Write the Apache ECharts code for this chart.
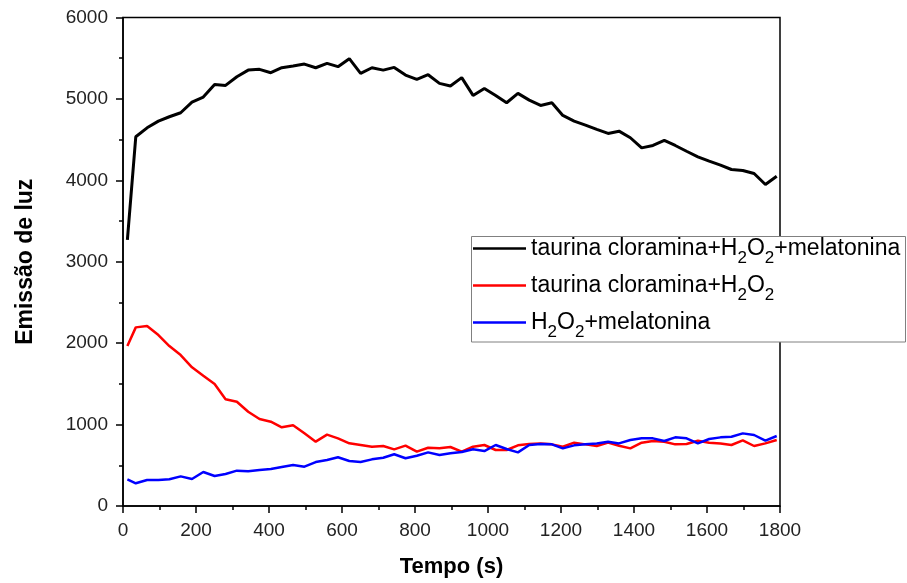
<!DOCTYPE html>
<html>
<head>
<meta charset="utf-8">
<title>Emissão de luz</title>
<script src="https://cdn.jsdelivr.net/npm/echarts@6/dist/echarts.min.js"></script>
<style>
  html, body { margin: 0; padding: 0; background: #fff; }
  #chart { width: 907px; height: 583px; }
</style>
</head>
<body>
<div id="chart"></div>
<script>
// Sampling times (s)
const tempo = [12, 35, 66, 97, 127, 158, 189, 220, 251, 281,
  312, 343, 374, 405, 435, 466, 497, 528, 559, 589,
  620, 651, 682, 713, 743, 774, 805, 836, 867, 897,
  928, 959, 990, 1021, 1051, 1082, 1113, 1144, 1175, 1205,
  1236, 1267, 1298, 1329, 1359, 1390, 1421, 1452, 1483, 1513,
  1544, 1575, 1606, 1637, 1667, 1698, 1729, 1760, 1791];

// Light emission: taurina cloramina + H2O2 + melatonina
const tcH2O2Mel = [3270, 4535, 4645, 4727, 4781, 4830, 4961, 5023, 5178, 5166,
  5273, 5354, 5363, 5322, 5383, 5404, 5428, 5383, 5437, 5396,
  5494, 5314, 5383, 5354, 5387, 5293, 5240, 5297, 5191, 5158,
  5261, 5043, 5129, 5043, 4953, 5068, 4985, 4920, 4953, 4797,
  4727, 4678, 4625, 4576, 4604, 4523, 4399, 4428, 4490, 4428,
  4357, 4289, 4235, 4186, 4133, 4121, 4084, 3949, 4051];

// Light emission: taurina cloramina + H2O2
const tcH2O2 = [1965, 2194, 2210, 2100, 1965, 1854, 1703, 1600, 1498, 1310,
  1281, 1158, 1068, 1035, 966, 991, 893, 790, 876, 831,
  770, 749, 728, 737, 696, 741, 667, 716, 708, 725,
  667, 728, 749, 688, 688, 745, 761, 769, 757, 728,
  778, 757, 737, 778, 741, 708, 778, 798, 790, 757,
  761, 802, 778, 769, 749, 806, 737, 769, 810];

// Light emission: H2O2 + melatonina
const h2o2Mel = [328, 279, 319, 319, 328, 364, 332, 418, 368, 393,
  434, 426, 442, 454, 479, 503, 483, 540, 565, 598,
  553, 540, 573, 593, 635, 586, 618, 659, 626, 647,
  663, 696, 675, 749, 700, 659, 749, 761, 757, 708,
  745, 757, 769, 790, 769, 810, 831, 831, 798, 843,
  831, 769, 823, 843, 851, 892, 872, 802, 860];

const seriesNames = [
  'taurina cloramina+H2O2+melatonina',
  'taurina cloramina+H2O2',
  'H2O2+melatonina'
];
const seriesValues = [tcH2O2Mel, tcH2O2, h2o2Mel];
const seriesColors = ['#000000', '#ff0000', '#0000ff'];
const seriesWidths = [3, 2.5, 2.5];

const xTicks = { min: 0, max: 1800, interval: 200 };
const yTicks = { min: 0, max: 6000, interval: 1000 };

const FONT = '"Liberation Sans", Arial, sans-serif';

const chart = echarts.init(document.getElementById('chart'), null, { renderer: 'canvas' });

const plainNumber = function (v) { return String(v); };

const axisCommon = {
  axisLine: { show: true, onZero: false, lineStyle: { color: '#000', width: 1.5 } },
  axisTick: { show: true, inside: false, length: 7, lineStyle: { color: '#000', width: 1.5 } },
  minorTick: { show: true, splitNumber: 2, length: 4, lineStyle: { color: '#000', width: 1.5 } },
  splitLine: { show: false },
  axisLabel: { color: '#222', fontSize: 19, fontFamily: FONT, margin: 15, formatter: plainNumber },
  nameTextStyle: { color: '#000', fontSize: 22, fontWeight: 'bold', fontFamily: FONT }
};

chart.setOption({
  animation: false,
  backgroundColor: '#fff',
  grid: {
    left: 123, right: 127, top: 17.5, bottom: 77,
    show: true, borderColor: '#000', borderWidth: 1.5, backgroundColor: 'transparent'
  },
  xAxis: Object.assign({}, axisCommon, {
    type: 'value',
    min: xTicks.min, max: xTicks.max, interval: xTicks.interval,
    name: 'Tempo (s)',
    nameLocation: 'middle',
    nameGap: 50
  }),
  yAxis: Object.assign({}, axisCommon, {
    type: 'value',
    min: yTicks.min, max: yTicks.max, interval: yTicks.interval,
    name: 'Emissão de luz',
    nameLocation: 'middle',
    nameGap: 86,
    nameTextStyle: { color: '#000', fontSize: 23, fontWeight: 'bold', fontFamily: FONT }
  }),
  // legend frame with white fill, drawn beneath the legend entries
  graphic: [{
    type: 'rect',
    z: 3,
    silent: true,
    shape: { x: 471.5, y: 236.5, width: 434, height: 105.5 },
    style: { fill: '#fff', stroke: '#808080', lineWidth: 1 }
  }],
  legend: {
    z: 4,
    orient: 'vertical',
    left: 473,
    top: 230.5,
    padding: 0,
    itemGap: 1,
    itemWidth: 53,
    itemHeight: 2.5,
    icon: 'rect',
    selectedMode: false,
    borderWidth: 0,
    data: seriesNames,
    formatter: function (name) {
      return name.replace('H2O2', 'H{s|2}O{s|2}');
    },
    textStyle: {
      color: '#000',
      fontSize: 23,
      lineHeight: 24,
      fontFamily: FONT,
      rich: {
        s: { fontSize: 17, lineHeight: 4, padding: [19, 0, 0, 0], fontFamily: FONT, color: '#000' }
      }
    }
  },
  series: seriesNames.map(function (name, k) {
    return {
      name: name,
      type: 'line',
      showSymbol: false,
      symbol: 'none',
      color: seriesColors[k],
      lineStyle: { color: seriesColors[k], width: seriesWidths[k] },
      data: tempo.map(function (t, i) { return [t, seriesValues[k][i]]; })
    };
  })
});
</script>
</body>
</html>
